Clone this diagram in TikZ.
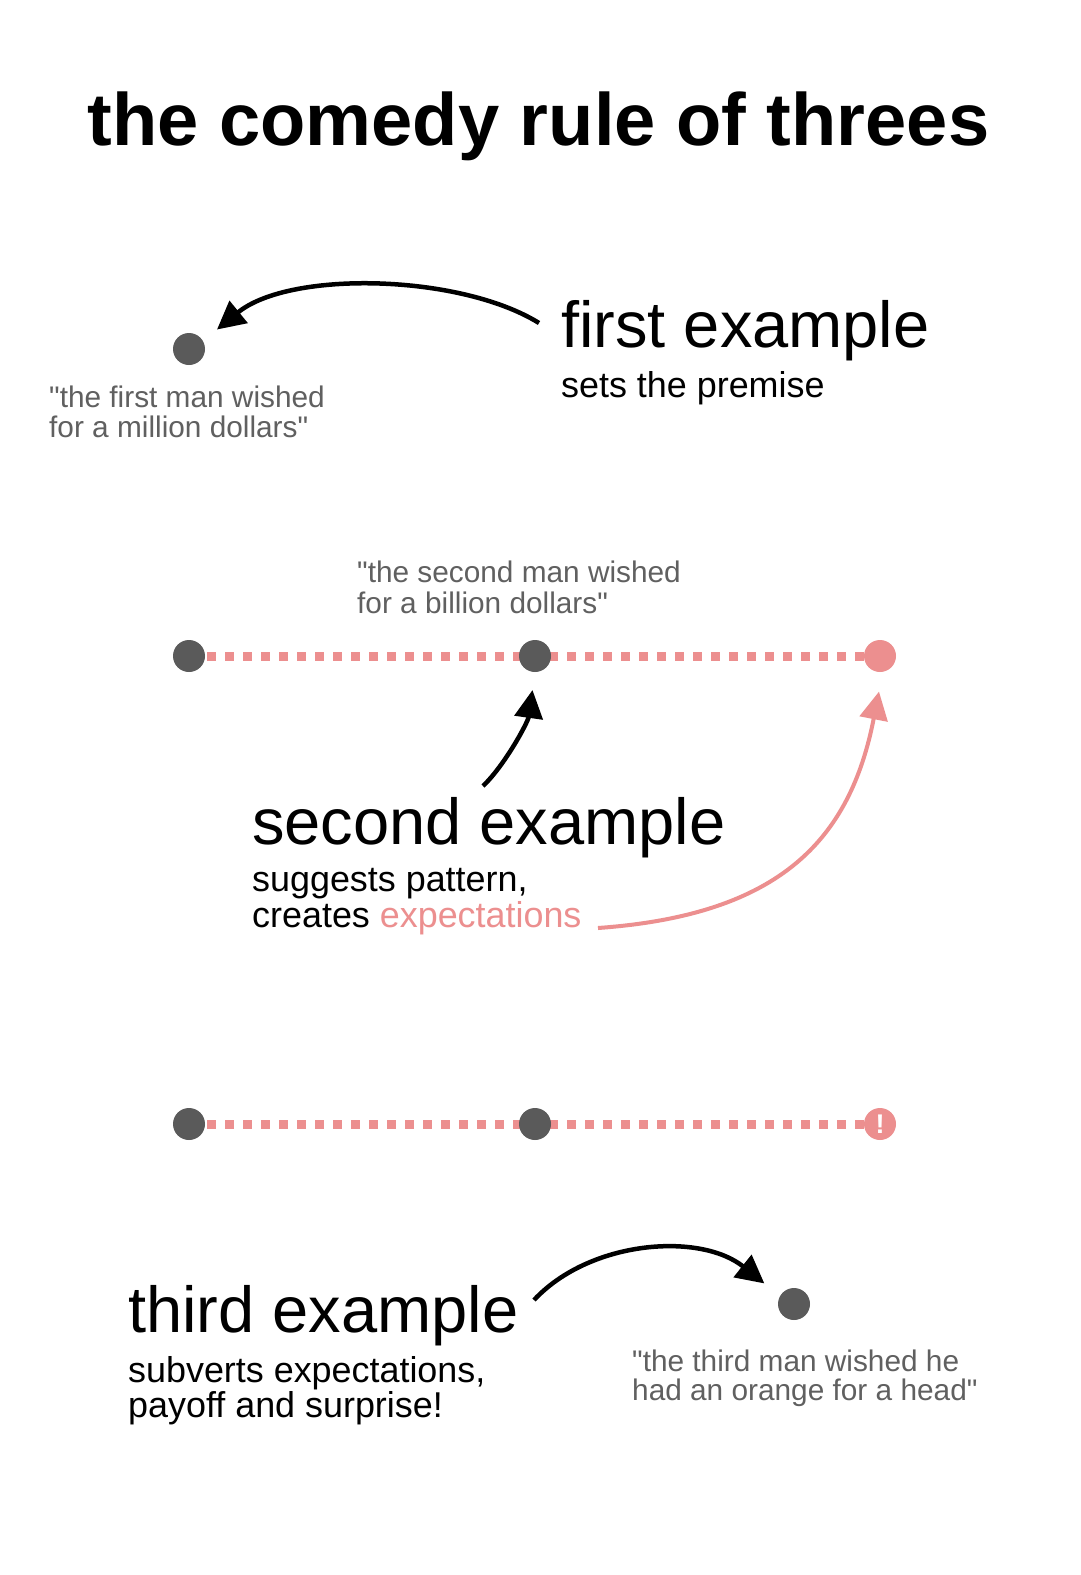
\documentclass[tikz,border=0pt]{standalone}
\usepackage{fontspec}
\setmainfont{Liberation Sans}
\newfontfamily\qfont{Liberation Sans}
\usetikzlibrary{arrows.meta,backgrounds}
\definecolor{pinkc}{RGB}{236,143,143}
\definecolor{dotc}{RGB}{90,90,90}
\definecolor{quotec}{RGB}{96,96,96}
\begin{document}
\begin{tikzpicture}[x=1pt,y=-1pt,
  dot/.style={circle,fill=dotc,inner sep=0pt,minimum size=32pt},
  pdot/.style={dot,fill=pinkc},
  lbl/.style={inner sep=0pt,anchor=base west},
  head/.style={lbl,font=\fontsize{65}{65}\selectfont},
  subtxt/.style={lbl,font=\fontsize{35.9}{36}\selectfont},
  quote/.style={lbl,text=quotec,font=\qfont\fontsize{29.8}{30}\selectfont},
  arr/.style={line width=4.5pt,-{Triangle[length=28pt,width=28pt]}},
  parr/.style={arr,pinkc,line width=4pt},
  dashline/.style={pinkc,line width=9pt,dash pattern=on 9pt off 9pt}
]
\useasboundingbox (0,0) rectangle (1080,1575);

% title
\node[inner sep=0pt,anchor=base,font=\bfseries\fontsize{74.1}{75}\selectfont] (title) at (538.5,145) {the comedy rule of threes};

% first example
\node[dot] (a1) at (189,349) {};
\node[head] (h1) at (561,347) {first example};
\node[subtxt] (s1) at (561,397) {sets the premise};
\node[quote] (q1a) at (49,407) {"the first man wished};
\node[quote] (q1b) at (49,437) {for a million dollars"};
\coordinate (st1) at (539,323);
\draw[arr,shorten >=18pt] (st1) .. controls (460,274) and (290,270) .. (a1.30);

% second example
\node[dot] (b1) at (189,656) {};
\node[dot] (b2) at (535,656) {};
\node[pdot] (b3) at (880,656) {};
\begin{scope}[on background layer]
  \fill[white] (0,0) rectangle (1080,1575);
  \draw[dashline] (b1.center) -- (b3.center);
\end{scope}
\node[quote] (q2a) at (357,582) {"the second man wished};
\node[quote] (q2b) at (357,613) {for a billion dollars"};
\node[head] (h2) at (252,844) {second example};
\node[subtxt] (s2a) at (252,891) {suggests pattern,};
\node[subtxt] (s2b) at (252,927) {creates \textcolor{pinkc}{expectations}};
\coordinate (st2) at (483,786);
\draw[arr,shorten >=18pt] (st2) .. controls (505,765) and (528,722) .. (b2.south);
\coordinate (st3) at (598,928);
\draw[parr,shorten >=20pt] (st3) .. controls (780,915) and (850,840) .. (b3.-80);

% third example
\node[dot] (c1) at (189,1124) {};
\node[dot] (c2) at (535,1124) {};
\node[pdot,text=white,font=\bfseries\fontsize{27}{27}\selectfont] (c3) at (880,1124) {!};
\begin{scope}[on background layer]
  \draw[dashline] (c1.center) -- (c3.center);
\end{scope}
\node[head] (h3) at (128,1332) {third example};
\node[subtxt] (s3a) at (128,1382) {subverts expectations,};
\node[subtxt] (s3b) at (128,1417) {payoff and surprise!};
\node[dot] (c4) at (794,1304) {};
\node[quote] (q3a) at (632,1371) {"the third man wished he};
\node[quote] (q3b) at (632,1400) {had an orange for a head"};
\coordinate (st4) at (534,1300);
\draw[arr,shorten >=20pt] (st4) .. controls (590,1240) and (700,1232) .. (c4.150);
\end{tikzpicture}
\end{document}
